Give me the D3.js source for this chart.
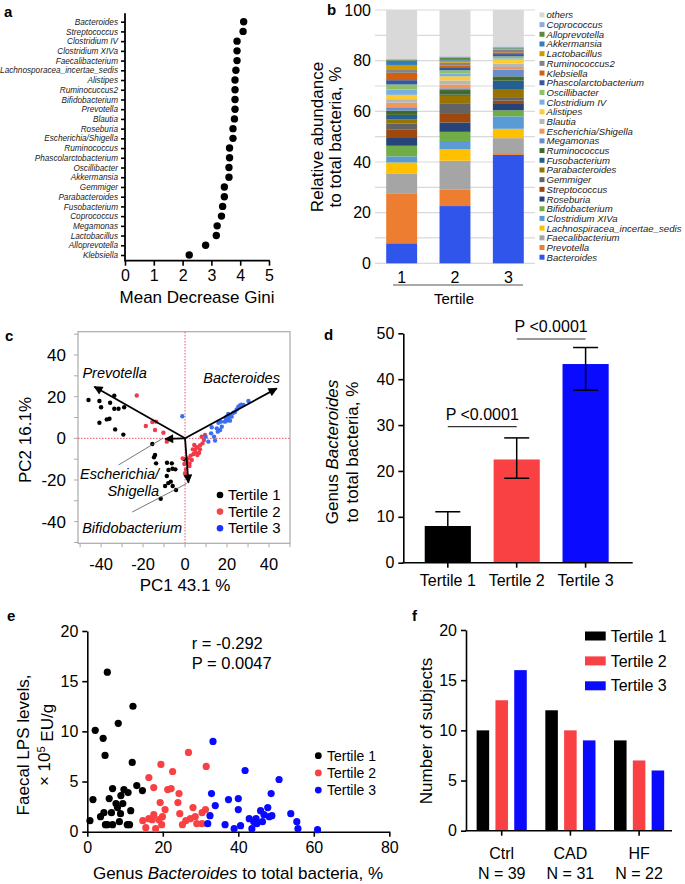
<!DOCTYPE html>
<html>
<head>
<meta charset="utf-8">
<script src="https://cdn.jsdelivr.net/npm/d3@7"></script>
<style>
  body { margin: 0; background: #fff; }
</style>
</head>
<body>
<svg id="fig" width="685" height="884"></svg>
<script>
'use strict';

// ---- a: mean decrease gini
var giniNames = ['Bacteroides', 'Streptococcus', 'Clostridium IV', 'Clostridium XIVa', 'Faecalibacterium',
  'Lachnosporacea_incertae_sedis', 'Alistipes', 'Ruminocuccus2', 'Bifidobacterium', 'Prevotella', 'Blautia',
  'Roseburia', 'Escherichia/Shigella', 'Ruminococcus', 'Phascolarctobacterium', 'Oscillibacter', 'Akkermansia',
  'Gemmiger', 'Parabacteroides', 'Fusobacterium', 'Coprococcus', 'Megamonas', 'Lactobacillus', 'Alloprevotella',
  'Klebsiella'];
var giniValues = [4.12, 4.10, 3.89, 3.89, 3.89, 3.85, 3.82, 3.82, 3.82, 3.82, 3.80, 3.75, 3.75, 3.63, 3.63,
  3.61, 3.61, 3.45, 3.45, 3.39, 3.35, 3.20, 3.17, 2.80, 2.23];

// ---- b: relative abundance, stacked bottom -> top
var stackGenera = ['Bacteroides', 'Prevotella', 'Faecalibacterium', 'Lachnospiracea_incertae_sedis',
  'Clostridium XIVa', 'Bifidobacterium', 'Roseburia', 'Streptococcus', 'Gemmiger', 'Parabacteroides',
  'Fusobacterium', 'Ruminococcus', 'Megamonas', 'Escherichia/Shigella', 'Blautia', 'Alistipes',
  'Clostridium IV', 'Oscillibacter', 'Phascolarctobacterium', 'Klebsiella', 'Ruminococcus2', 'Lactobacillus',
  'Akkermansia', 'Alloprevotella', 'Coprococcus', 'others'];
var tertileTicks = ['1', '2', '3'];
var abundTertile1 = [7.9, 19.5, 7.9, 4.5, 2.4, 4.2, 3.4, 2.9, 2.4, 1.8, 1.7, 1.7, 1.3, 1.8, 1.4, 1.7, 2.1, 2.0,
  1.7, 2.9, 1.1, 2.0, 1.6, 0.3, 0.4, 19.4];
var abundTertile2 = [22.6, 6.6, 11.3, 4.5, 3.3, 3.6, 3.7, 3.7, 3.9, 2.9, 0.5, 1.8, 0.7, 1.5, 1.6, 1.6, 1.1, 1.3,
  0.9, 0.9, 1.2, 0.8, 0.3, 1.0, 0.4, 18.3];
var abundTertile3 = [42.8, 0.7, 5.9, 3.7, 4.9, 2.4, 2.5, 1.3, 1.4, 3.2, 3.3, 1.7, 2.6, 1.1, 1.3, 1.6, 0.5, 0.8,
  0.9, 0.7, 1.0, 0.3, 0.2, 0.4, 0.4, 14.4];
var stackColors = ['#2f55eb', '#ed7d31', '#a5a5a5', '#ffc000', '#5b9bd5', '#70ad47', '#264478', '#9e480e',
  '#636363', '#997300', '#255e91', '#43682b', '#698ed0', '#f1975a', '#b7b7b7', '#ffcd33', '#7cafdd', '#8cc168',
  '#335aa1', '#d26012', '#848484', '#cc9a00', '#327dc2', '#5a8a39', '#8faadc', '#d9d9d9'];

// ---- c: PCA scores [PC1, PC2]
var pcaTertile1 = [[-46, 18.4], [-40.8, 17.9], [-40, 14.9], [-33.7, 20.5], [-35.7, 17.1], [-33.7, 14.2],
  [-31.7, 14.2], [-29, 14.9], [-40.8, 7.5], [-37.3, 9.1], [-36, 9.4], [-33.3, 4.3], [-29.4, 1.8], [-15.6, -2.7],
  [-14.3, -8], [-14.8, -9.1], [-13.8, -12], [-8.6, -11.7], [-6.3, -12], [-6, -14.6], [-4.6, -14.9],
  [-8.7, -18.1], [-6.8, -20.8], [-9.5, -22.9], [-5.9, -22.9], [-4.3, -24.8], [-11.6, -29], [-0.3, -10.1],
  [-7.9, -15.2], [-8, -21.5]];
var pcaTertile2 = [[-23, 20.6], [-18.7, 5.9], [-15.6, 7.8], [-13.8, 8], [-14.3, 4], [-10.3, 2.7], [-8.7, -1.6],
  [9, -0.8], [8.3, -2.4], [7.1, -3.4], [5.6, -4.3], [4.8, -5.6], [3.7, -5.3], [6.7, -6.9], [5.9, -8], [4, -7.5],
  [2.7, -8.3], [1.6, -9.6], [3.2, -10.4], [2.1, -12], [0.8, -11.2], [2.1, -13.3], [0.5, -14.9], [0, -16.8],
  [7.9, 0.8], [9.5, 1.6], [4.4, -3.2], [-1.1, -9.6], [-0.3, -12.3], [7.1, -5.3], [5.2, -7.2]];
var pcaTertile3 = [[-1.3, 10.6], [12.7, 5.3], [15.9, 7.5], [17.1, 8], [15.1, 4.8], [16.7, 4], [12.4, 2.4],
  [9.8, 0.8], [14.3, -1.1], [11.1, -1.6], [19.8, 10.4], [21.4, 11.2], [20.6, 9.6], [23, 12.3], [23.8, 12.6],
  [25.4, 15.2], [26.2, 15.8], [26.8, 16.2], [30.2, 17.9], [19.8, 8.5], [21.4, 8.5], [19, 8], [17.5, 5.6],
  [15.6, 3.2], [13.8, 0.8], [22.2, 10.4], [24.6, 13.9], [20.6, 11.7], [27.8, 16], [19.4, 9.6]];
var loadingNames = ['Prevotella', 'Bacteroides', 'Escherichia/Shigella', 'Bifidobacterium'];
var loadingPC1 = [-43.2, 43.7, -9.5, 1.6];
var loadingPC2 = [24.8, 24.0, -0.3, -21.3];

// ---- d: Bacteroides by tertile
var tertileNames = ['Tertile 1', 'Tertile 2', 'Tertile 3'];
var bacMean = [8.0, 22.5, 43.3];
var bacUpper = [11.1, 27.2, 46.9];
var bacLower = [5.0, 18.4, 37.6];
var pText = ['P <0.0001', 'P <0.0001'];

// ---- e: faecal LPS vs Bacteroides [%, LPS]
var lpsTertile1 = [[5.3, 15.9], [12.1, 12.5], [8.2, 10.8], [2.1, 10.1], [4.2, 9.3], [4.7, 7.6], [11.9, 6.9],
  [0.7, 1.1], [1.5, 3.2], [4.4, 1.9], [4.8, 0.7], [5.8, 3.3], [6.7, 4.3], [7.6, 2.8], [6.4, 1.9], [8.8, 1.8],
  [8.5, 1.0], [6.7, 0.7], [8.9, 3.6], [9.7, 4.2], [10.8, 3.9], [10.6, 0.7], [11.5, 2.1], [13.1, 4.6],
  [14.6, 4.1], [8.0, 2.4], [11.2, 0.7], [5.3, 0.7], [3.5, 1.5], [9.4, 2.8]];
var lpsTertile2 = [[26.8, 7.9], [19.5, 6.7], [22.6, 6.0], [31.5, 6.5], [16.3, 5.4], [17.6, 4.4], [21.3, 4.2],
  [22.2, 4.3], [24.3, 3.8], [19.3, 2.9], [24.0, 2.9], [20.6, 2.2], [24.5, 1.8], [28.0, 2.4], [31.3, 2.2],
  [30.4, 1.9], [14.7, 1.1], [15.5, 0.4], [18.1, 0.3], [16.3, 1.3], [17.6, 1.7], [17.2, 1.2], [19.0, 1.2],
  [19.9, 1.5], [19.7, 0.7], [25.2, 0.7], [26.1, 1.1], [28.6, 1.5], [29.0, 0.8], [30.4, 0.8], [27.3, 1.3]];
var lpsTertile3 = [[33.3, 9.0], [41.8, 6.1], [50.8, 5.2], [32.9, 3.8], [33.9, 2.6], [37.4, 3.2], [40.0, 3.3],
  [40.0, 2.2], [48.7, 3.8], [32.5, 1.6], [31.9, 0.8], [36.5, 0.7], [38.9, 0.3], [40.6, 0.6], [42.9, 1.3],
  [43.6, 0.3], [44.7, 1.3], [45.9, 2.1], [46.8, 1.7], [47.8, 2.4], [46.4, 1.0], [48.2, 1.5], [48.9, 1.6],
  [44.9, 0.8], [53.9, 1.8], [55.5, 1.0], [55.8, 0.3], [61.0, 0.2], [44.1, 1.0]];
var corrText = ['r = -0.292', 'P = 0.0047'];

// ---- f: subjects per group
var groupNames = ['Ctrl', 'CAD', 'HF'];
var groupN = [39, 31, 22];
var subjectsT1 = [10, 12, 9];
var subjectsT2 = [13, 10, 7];
var subjectsT3 = [16, 9, 6];

var FONT = '"Liberation Sans", Arial, Helvetica, sans-serif';
var tertileColors = ['#000000', '#f94144', '#0a0aff'];

var svg = d3.select('#fig').attr('font-family', FONT);

function styleAxis(g, size) {
  g.attr('font-family', FONT).attr('font-size', size);
  g.selectAll('.tick text').attr('fill', '#000');
  g.selectAll('line, path').attr('stroke', '#000').attr('stroke-width', 1.6);
  return g;
}
function hline(g, x1, x2, y, w, col) {
  g.append('line').attr('x1', x1).attr('x2', x2).attr('y1', y).attr('y2', y)
    .attr('stroke', col || '#000').attr('stroke-width', w || 1.6);
}
function vline(g, x, y1, y2, w, col) {
  g.append('line').attr('x1', x).attr('x2', x).attr('y1', y1).attr('y2', y2)
    .attr('stroke', col || '#000').attr('stroke-width', w || 1.6);
}
function rotText(g, x, y, size) {
  return g.append('text').attr('transform', 'translate(' + x + ',' + y + ') rotate(-90)')
    .attr('text-anchor', 'middle').attr('dy', '0.35em').attr('font-size', size);
}
function panelLabel(t, x, y) {
  svg.append('text').attr('x', x).attr('y', y).attr('font-size', 15).attr('font-weight', 'bold').text(t);
}

// ================= a
var ga = svg.append('g');
var xA = d3.scaleLinear().domain([0, 5]).range([125, 269]);
var yA = d3.scalePoint().domain(giniNames).range([21.7, 255]);

styleAxis(ga.append('g').attr('transform', 'translate(0,260.7)')
  .call(d3.axisBottom(xA).ticks(5).tickSize(5).tickSizeOuter(0).tickPadding(4)), 16)
  .select('.domain').remove();
var ayA = styleAxis(ga.append('g').attr('transform', 'translate(125,0)')
  .call(d3.axisLeft(yA).tickSize(4).tickPadding(3)), 8.2);
ayA.select('.domain').remove();
ayA.selectAll('.tick text').attr('font-style', 'italic').attr('fill', '#222');
vline(ga, 125, 13.3, 261.5, 1.8);
hline(ga, 125, 269.8, 260.7, 1.8);

ga.selectAll('.dot').data(giniNames).enter().append('circle')
  .attr('cx', function(d, i) { return xA(giniValues[i]); })
  .attr('cy', function(d) { return yA(d); })
  .attr('r', 3.7).attr('fill', '#000');
ga.append('text').attr('x', 197).attr('y', 303).attr('text-anchor', 'middle').attr('font-size', 17)
  .text('Mean Decrease Gini');

// ================= b
var gb = svg.append('g');
var xB = d3.scaleBand().domain(tertileTicks).range([375, 535]).paddingInner(0.42).paddingOuter(0.21);
var yB = d3.scaleLinear().domain([0, 100]).range([263.3, 10]);

gb.selectAll('.grid').data(d3.range(0, 101, 10)).enter().append('line')
  .attr('x1', 375).attr('x2', 535)
  .attr('y1', function(d) { return yB(d); }).attr('y2', function(d) { return yB(d); })
  .attr('stroke', '#d9d9d9').attr('stroke-width', 1.2);

var abundRows = [abundTertile1, abundTertile2, abundTertile3];
var abundTable = tertileTicks.map(function(t, i) {
  var row = { tertile: t };
  stackGenera.forEach(function(g, j) { row[g] = abundRows[i][j]; });
  return row;
});
var stacked = d3.stack().keys(stackGenera)(abundTable);
var colorB = d3.scaleOrdinal().domain(stackGenera).range(stackColors);

gb.selectAll('.layer').data(stacked).enter().append('g')
  .attr('fill', function(s) { return colorB(s.key); })
  .selectAll('rect').data(function(s) { return s; }).enter().append('rect')
  .attr('x', function(d) { return xB(d.data.tertile); })
  .attr('width', xB.bandwidth())
  .attr('y', function(d) { return yB(d[1]); })
  .attr('height', function(d) { return yB(d[0]) - yB(d[1]); });

var ayB = styleAxis(gb.append('g').attr('transform', 'translate(375,0)')
  .call(d3.axisLeft(yB).tickValues([0, 20, 40, 60, 80, 100]).tickSize(0).tickPadding(4)), 16);
ayB.select('.domain').remove();
var axB = styleAxis(gb.append('g').attr('transform', 'translate(0,263.3)')
  .call(d3.axisBottom(xB).tickSize(0).tickPadding(8)), 16);
axB.select('.domain').remove();
hline(gb, 393, 523, 285, 1.2, '#555');
gb.append('text').attr('x', 454).attr('y', 304).attr('text-anchor', 'middle').attr('font-size', 15).text('Tertile');
rotText(gb, 317, 137, 17).text('Relative abundance');
rotText(gb, 335, 137, 17).text('to total bacteria, %');

var legB = d3.scalePoint().domain(stackGenera.slice().reverse()).range([15, 257.3]);
var legItem = gb.selectAll('.leg').data(legB.domain()).enter().append('g')
  .attr('transform', function(d) { return 'translate(539.5,' + legB(d) + ')'; });
legItem.append('rect').attr('x', 0).attr('y', -2.6).attr('width', 5).attr('height', 5)
  .attr('fill', function(d) { return colorB(d); });
legItem.append('text').attr('x', 7).attr('dy', '0.35em').attr('font-size', 9.6).attr('font-style', 'italic')
  .attr('fill', '#222').text(function(d) { return d; });

// ================= c
var gc = svg.append('g');
var xC = d3.scaleLinear().domain([-51, 50]).range([78, 290]);
var yC = d3.scaleLinear().domain([-50.4, 51.2]).range([543.3, 331.7]);

gc.append('rect').attr('x', 78).attr('y', 331.7).attr('width', 212).attr('height', 211.6)
  .attr('fill', 'none').attr('stroke', '#aaa').attr('stroke-width', 1.2);
var minorC = d3.range(-50, 51, 10);
gc.selectAll('.ty').data(minorC).enter().append('line')
  .attr('x1', 74).attr('x2', 78).attr('y1', function(d) { return yC(d); }).attr('y2', function(d) { return yC(d); })
  .attr('stroke', '#aaa');
gc.selectAll('.tx').data(minorC).enter().append('line')
  .attr('y1', 543.3).attr('y2', 547.3).attr('x1', function(d) { return xC(d); }).attr('x2', function(d) { return xC(d); })
  .attr('stroke', '#aaa');
var majorC = [-40, -20, 0, 20, 40];
gc.selectAll('.ly').data(majorC).enter().append('text')
  .attr('x', 66).attr('y', function(d) { return yC(d); }).attr('dy', '0.35em').attr('text-anchor', 'end')
  .attr('font-size', 17).text(function(d) { return d; });
gc.selectAll('.lx').data(majorC).enter().append('text')
  .attr('x', function(d) { return xC(d); }).attr('y', 570).attr('text-anchor', 'middle')
  .attr('font-size', 16.5).text(function(d) { return d; });

gc.append('line').attr('x1', xC(0)).attr('x2', xC(0)).attr('y1', 332).attr('y2', 543)
  .attr('stroke', '#f0506a').attr('stroke-width', 1).attr('stroke-dasharray', '1.5,1.5');
gc.append('line').attr('x1', 78).attr('x2', 290).attr('y1', yC(0)).attr('y2', yC(0))
  .attr('stroke', '#f0506a').attr('stroke-width', 1).attr('stroke-dasharray', '1.5,1.5');

var pcaSets = [pcaTertile1, pcaTertile2, pcaTertile3];
var pcaColors = ['#000000', '#f03a48', '#3b6ef0'];
pcaSets.forEach(function(set, k) {
  gc.selectAll('.p' + k).data(set).enter().append('circle')
    .attr('cx', function(d) { return xC(d[0]); }).attr('cy', function(d) { return yC(d[1]); })
    .attr('r', 2.2).attr('fill', pcaColors[k]);
});

svg.append('defs').append('marker').attr('id', 'arrowhead')
  .attr('viewBox', '0 0 10 10').attr('refX', 9).attr('refY', 5)
  .attr('markerWidth', 5.5).attr('markerHeight', 5).attr('orient', 'auto')
  .append('path').attr('d', 'M0,0L10,5L0,10z').attr('fill', '#000');
gc.selectAll('.arrow').data(loadingNames).enter().append('line')
  .attr('x1', xC(0)).attr('y1', yC(0))
  .attr('x2', function(d, i) { return xC(loadingPC1[i]); })
  .attr('y2', function(d, i) { return yC(loadingPC2[i]); })
  .attr('stroke', '#000').attr('stroke-width', 1.8).attr('marker-end', 'url(#arrowhead)');

// leader lines from labels to arrow tips
var leaders = [[[-31.7, -12.8], [-10.6, 0]], [[-25.2, -35.4], [0.8, -21.7]]];
leaders.forEach(function(l) {
  gc.append('line').attr('x1', xC(l[0][0])).attr('y1', yC(l[0][1]))
    .attr('x2', xC(l[1][0])).attr('y2', yC(l[1][1])).attr('stroke', '#555').attr('stroke-width', 0.8);
});

function itLabel(t, x, y, anchor) {
  gc.append('text').attr('x', xC(x)).attr('y', yC(y)).attr('dy', '0.35em').attr('text-anchor', anchor)
    .attr('font-size', 14.5).attr('font-style', 'italic').text(t);
}
itLabel('Prevotella', -48.9, 31.2, 'start');
itLabel('Bacteroides', 45.2, 29, 'end');
itLabel('Escherichia/', -12.4, -17.1, 'end');
itLabel('Shigella', -12.4, -25.3, 'end');
itLabel('Bifidobacterium', -49, -43, 'start');

tertileNames.forEach(function(t, i) {
  var y = 495 + i * 16.6;
  gc.append('circle').attr('cx', 220).attr('cy', y).attr('r', 3.3)
    .attr('fill', ['#000', '#f04848', '#1f30ff'][i]);
  gc.append('text').attr('x', 228).attr('y', y).attr('dy', '0.35em').attr('font-size', 15).text(t);
});

rotText(gc, 25, 440, 17).text('PC2 16.1%');
gc.append('text').attr('x', 185).attr('y', 591).attr('text-anchor', 'middle').attr('font-size', 17).text('PC1 43.1 %');

// ================= d
var gd = svg.append('g');
var xD = d3.scaleBand().domain(tertileNames).range([413.35, 620.05]).paddingInner(0.33).paddingOuter(0.165);
var yD = d3.scaleLinear().domain([0, 50]).range([562.7, 333.3]);

gd.selectAll('.bar').data(tertileNames).enter().append('rect')
  .attr('x', function(d) { return xD(d); }).attr('width', xD.bandwidth())
  .attr('y', function(d, i) { return yD(bacMean[i]); })
  .attr('height', function(d, i) { return yD(0) - yD(bacMean[i]); })
  .attr('fill', function(d, i) { return tertileColors[i]; });
var errG = gd.selectAll('.err').data(tertileNames).enter().append('g')
  .attr('transform', function(d) { return 'translate(' + (xD(d) + xD.bandwidth() / 2) + ',0)'; });
errG.append('line').attr('x1', 0).attr('x2', 0)
  .attr('y1', function(d, i) { return yD(bacLower[i]); }).attr('y2', function(d, i) { return yD(bacUpper[i]); })
  .attr('stroke', '#000').attr('stroke-width', 1.5);
errG.append('line').attr('x1', -12.5).attr('x2', 12.5)
  .attr('y1', function(d, i) { return yD(bacUpper[i]); }).attr('y2', function(d, i) { return yD(bacUpper[i]); })
  .attr('stroke', '#000').attr('stroke-width', 1.5);
errG.append('line').attr('x1', -12.5).attr('x2', 12.5)
  .attr('y1', function(d, i) { return yD(bacLower[i]); }).attr('y2', function(d, i) { return yD(bacLower[i]); })
  .attr('stroke', '#000').attr('stroke-width', 1.5);

styleAxis(gd.append('g').attr('transform', 'translate(403.3,0)')
  .call(d3.axisLeft(yD).ticks(5).tickSize(5).tickSizeOuter(0).tickPadding(4)), 16);
var axD = styleAxis(gd.append('g').attr('transform', 'translate(0,562.7)')
  .call(d3.axisBottom(xD).tickSize(5).tickPadding(7)), 16);
axD.select('.domain').remove();
hline(gd, 402.5, 632.7, 562.7, 1.6);

[[0, 1, 426.7], [1, 2, 339]].forEach(function(c, k) {
  var xa = xD(tertileNames[c[0]]) + xD.bandwidth() / 2;
  var xb = xD(tertileNames[c[1]]) + xD.bandwidth() / 2;
  hline(gd, xa, xb, c[2], 1.2, '#333');
  gd.append('text').attr('x', (xa + xb) / 2).attr('y', c[2] - 7).attr('text-anchor', 'middle')
    .attr('font-size', 16).text(pText[k]);
});
var td = rotText(gd, 342, 452, 17);
td.append('tspan').attr('x', 0).attr('dy', '-0.25em').text('Genus ');
td.append('tspan').attr('font-style', 'italic').text('Bacteroides');
td.append('tspan').attr('x', 0).attr('dy', '1.2em').text('to total bacteria, %');

// ================= e
var ge = svg.append('g');
var xE = d3.scaleLinear().domain([0, 80]).range([87.3, 389.3]);
var yE = d3.scaleLinear().domain([0, 20]).range([831.7, 631]);

styleAxis(ge.append('g').attr('transform', 'translate(0,831.7)')
  .call(d3.axisBottom(xE).ticks(4).tickSize(5).tickSizeOuter(0).tickPadding(5)), 16);
styleAxis(ge.append('g').attr('transform', 'translate(87.3,0)')
  .call(d3.axisLeft(yE).ticks(4).tickSize(5).tickSizeOuter(0).tickPadding(4)), 16);

var lpsSets = [lpsTertile1, lpsTertile2, lpsTertile3];
lpsSets.forEach(function(set, k) {
  ge.selectAll('.e' + k).data(set).enter().append('circle')
    .attr('cx', function(d) { return xE(d[0]); }).attr('cy', function(d) { return yE(d[1]); })
    .attr('r', 3.6).attr('fill', tertileColors[k]);
});
corrText.forEach(function(t, i) {
  ge.append('text').attr('x', 191.7).attr('y', 649 + i * 19.5).attr('font-size', 16.5).text(t);
});
tertileNames.forEach(function(t, i) {
  var y = 755.7 + i * 17.2;
  ge.append('circle').attr('cx', 318.3).attr('cy', y).attr('r', 3.4).attr('fill', tertileColors[i]);
  ge.append('text').attr('x', 327).attr('y', y).attr('dy', '0.35em').attr('font-size', 14).text(t);
});
var te = rotText(ge, 34, 745, 17);
te.append('tspan').attr('x', 0).attr('dy', '-0.3em').text('Faecal LPS levels,');
te.append('tspan').attr('x', 0).attr('dy', '1.25em').text('\u00d7 10');
te.append('tspan').attr('dy', '-0.45em').attr('font-size', 11).text('5');
te.append('tspan').attr('dy', '0.45em').text(' EU/g');
var tex = ge.append('text').attr('x', 238).attr('y', 879).attr('text-anchor', 'middle').attr('font-size', 17);
tex.append('tspan').text('Genus ');
tex.append('tspan').attr('font-style', 'italic').text('Bacteroides');
tex.append('tspan').text(' to total bacteria, %');

// ================= f
var gf = svg.append('g');
var x0F = d3.scaleBand().domain(groupNames).range([467.35, 673.45]).paddingInner(0.27).paddingOuter(0.135);
var x1F = d3.scaleBand().domain(tertileNames).range([0, x0F.bandwidth()]).paddingInner(0.333);
var yF = d3.scaleLinear().domain([0, 20]).range([830.7, 630]);
var subjects = [subjectsT1, subjectsT2, subjectsT3];

var grp = gf.selectAll('.grp').data(groupNames).enter().append('g')
  .attr('transform', function(d) { return 'translate(' + x0F(d) + ',0)'; });
grp.selectAll('rect').data(function(d, gi) {
  return tertileNames.map(function(t, k) { return { t: t, k: k, v: subjects[k][gi] }; });
}).enter().append('rect')
  .attr('x', function(d) { return x1F(d.t); }).attr('width', x1F.bandwidth())
  .attr('y', function(d) { return yF(d.v); }).attr('height', function(d) { return yF(0) - yF(d.v); })
  .attr('fill', function(d) { return tertileColors[d.k]; });

styleAxis(gf.append('g').attr('transform', 'translate(466,0)')
  .call(d3.axisLeft(yF).ticks(4).tickSize(5).tickSizeOuter(0).tickPadding(4)), 16);
var axF = styleAxis(gf.append('g').attr('transform', 'translate(0,830.7)')
  .call(d3.axisBottom(x0F).tickSize(5).tickFormat('')), 16);
axF.select('.domain').remove();
hline(gf, 465.2, 672, 830.7, 1.6);
groupNames.forEach(function(g, i) {
  var cx = x0F(g) + x0F.bandwidth() / 2;
  gf.append('text').attr('x', cx).attr('y', 859).attr('text-anchor', 'middle').attr('font-size', 16).text(g);
  gf.append('text').attr('x', cx).attr('y', 878.5).attr('text-anchor', 'middle').attr('font-size', 16)
    .text('N = ' + groupN[i]);
});
tertileNames.forEach(function(t, i) {
  var y = 636 + i * 24.9;
  gf.append('rect').attr('x', 585).attr('y', y - 4.5).attr('width', 20.7).attr('height', 9)
    .attr('fill', tertileColors[i]);
  gf.append('text').attr('x', 610.7).attr('y', y).attr('dy', '0.35em').attr('font-size', 16).text(t);
});
rotText(gf, 426, 731, 17).text('Number of subjects');

panelLabel('a', 4, 17);
panelLabel('b', 327, 15);
panelLabel('c', 5, 341);
panelLabel('d', 324, 340);
panelLabel('e', 7, 621);
panelLabel('f', 412, 621);
</script>
</body>
</html>
